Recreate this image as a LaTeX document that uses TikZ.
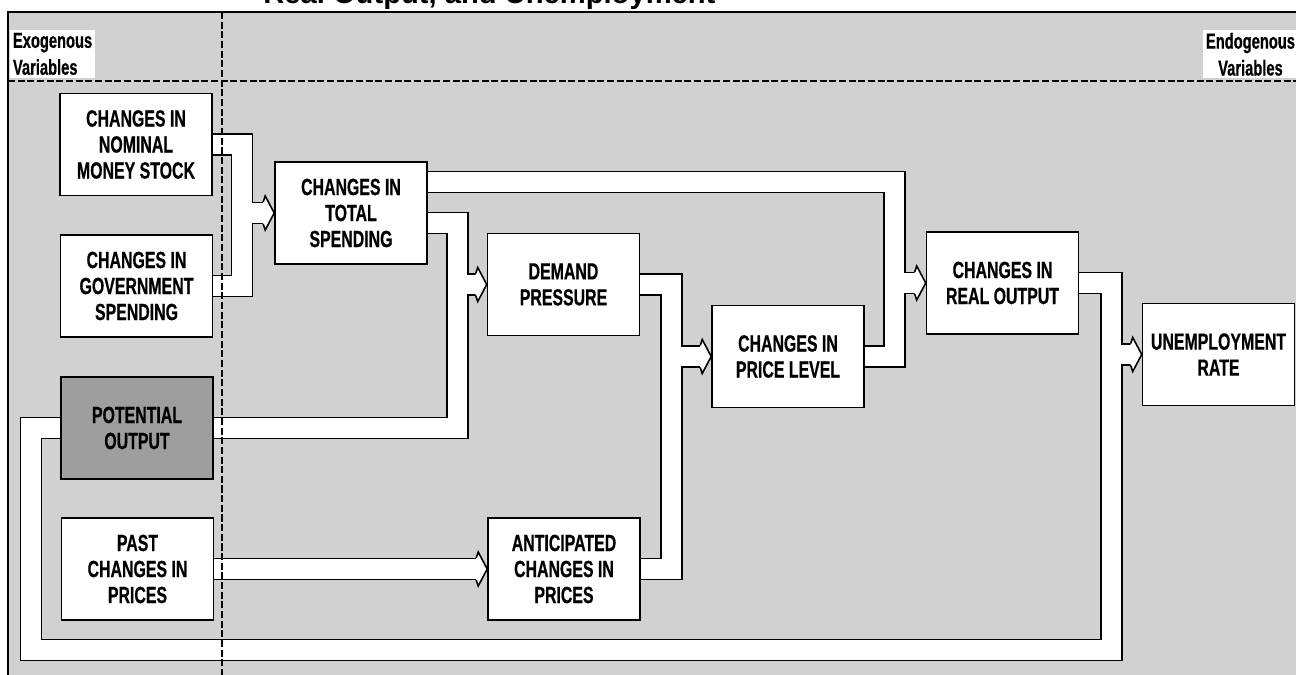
\documentclass[tikz,border=0pt]{standalone}
\usepackage{fontspec}
\setmainfont{Liberation Sans}
\newfontfamily\gfont{Liberation Sans}[FakeStretch=0.68,FakeBold=0.6]
\usetikzlibrary{calc}
\pgfdeclarelayer{bg}
\pgfdeclarelayer{pipes}
\pgfdeclarelayer{tips}
\pgfdeclarelayer{dash}
\pgfsetlayers{bg,pipes,tips,dash,main}
\newcommand\pipenet[1]{%
  \draw[#1] (money.east) -| (m1 |- gov.east) -- (gov.east);
  \draw[#1] (m1 |- ts.west) -- ($(ts.west)+(-11,0)$);
  \draw[#1] ($(ts.east)+(0,10)$) -| (m2 |- pot.east) -- (pot.east);
  \draw[#1] (m2 |- dem.west) -- ($(dem.west)+(-11,0)$);
  \draw[#1] ($(ts.east)+(0,-31)$) -| (m3 |- pl.east) -- (pl.east);
  \draw[#1] (m3 |- ro.west) -- ($(ro.west)+(-11,0)$);
  \draw[#1] (dem.east) -| (m4 |- ant.east) -- (ant.east);
  \draw[#1] (m4 |- pl.west) -- ($(pl.west)+(-11,0)$);
  \draw[#1] (past.east) -- ($(ant.west)+(-11,0)$);
  \draw[#1] (ro.east) -| (rb) -- (lb) |- (pot.west);
  \draw[#1] (rb |- ue.west) -- ($(ue.west)+(-11,0)$);
}
\newcommand\pipetip[1]{%
  \fill[white] ($(#1.west)+(-11,-11)$) -- ($(#1.west)+(-9,-17)$) -- (#1.west)
     -- ($(#1.west)+(-9,17)$) -- ($(#1.west)+(-11,11)$) -- cycle;
  \draw[wall] ($(#1.west)+(-11,-11)$) -- ($(#1.west)+(-9,-17)$) -- (#1.west)
     -- ($(#1.west)+(-9,17)$) -- ($(#1.west)+(-11,11)$);
}
\begin{document}
\begin{tikzpicture}[x=0.02cm,y=-0.02cm,
  box/.style={draw=black, line width=0.9pt, fill=white, minimum width=3.04cm,
    minimum height=2.04cm, inner sep=0pt, align=center,
    font=\gfont\bfseries\fontsize{13.3}{14.8}\selectfont},
  pipeout/.style={line width=0.45cm, draw=black, line join=miter},
  pipein/.style={line width=0.386cm, draw=white, line join=miter},
  wall/.style={line width=0.9pt, draw=black, line join=miter},
  varlabel/.style={fill=white, inner sep=1.5pt,
    font=\gfont\bfseries\fontsize{12.3}{15.3}\selectfont},
  divider/.style={line width=0.8pt, dash pattern=on 4pt off 1.5pt}
]
\useasboundingbox (0,0) rectangle (1296,675);

% boxes
\node[box] (money) at (136,144.5) {CHANGES IN\\NOMINAL\\MONEY STOCK};
\node[box] (gov) at (136.5,286) {CHANGES IN\\GOVERNMENT\\SPENDING};
\node[box, fill=black!38] (pot) at (137,428) {POTENTIAL\\OUTPUT};
\node[box] (past) at (137.5,569) {PAST\\CHANGES IN\\PRICES};
\node[box] (ts) at (351,213) {CHANGES IN\\TOTAL\\SPENDING};
\node[box] (dem) at (563.5,284.5) {DEMAND\\PRESSURE};
\node[box] (pl) at (788,356.5) {CHANGES IN\\PRICE LEVEL};
\node[box] (ro) at (1002.5,283) {CHANGES IN\\REAL OUTPUT};
\node[box] (ue) at (1218.5,354.5) {UNEMPLOYMENT\\RATE};
\node[box] (ant) at (564,569) {ANTICIPATED\\CHANGES IN\\PRICES};

% labels
\node[varlabel, anchor=north west, align=left] (exo) at (10,30) {Exogenous\\Variables};
\node[varlabel, anchor=north west, align=center] (endo) at (1203,30) {Endogenous\\Variables};
\node[anchor=base west, inner sep=0pt, font=\bfseries\fontsize{16.6}{18}\selectfont] (title) at (263,4) {Real Output, and Unemployment};

% pipe junction coordinates
\coordinate (m1) at (242,0);
\coordinate (m2) at (457.5,0);
\coordinate (m3) at (894.5,0);
\coordinate (m4) at (671.5,0);
\coordinate (rb) at (1111.5,650);
\coordinate (lb) at (31,650);

\begin{pgfonlayer}{bg}
  \fill[black!18] (8,12) rectangle (1300,680);
  \draw[line width=1.2pt] (8,680) -- (8,12) -- (1300,12);
\end{pgfonlayer}

\begin{pgfonlayer}{pipes}
  \pipenet{pipeout}
  \pipenet{pipein}
\end{pgfonlayer}

\begin{pgfonlayer}{tips}
  \pipetip{ts}
  \pipetip{dem}
  \pipetip{ro}
  \pipetip{pl}
  \pipetip{ant}
  \pipetip{ue}
\end{pgfonlayer}

\begin{pgfonlayer}{dash}
  \draw[divider] (222,12) -- (222,680);
  \draw[divider] (8,81) -- (1300,81);
\end{pgfonlayer}
\end{tikzpicture}
\end{document}
